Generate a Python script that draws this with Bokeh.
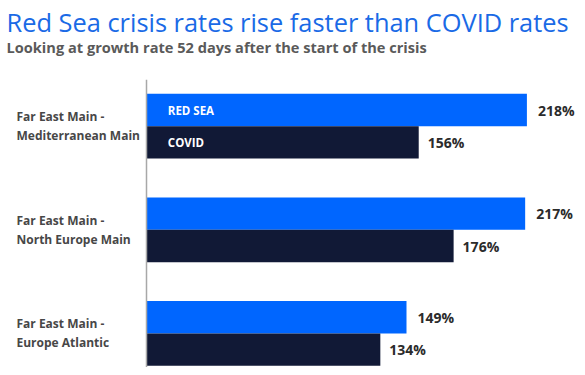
from bokeh.plotting import figure
from bokeh.models import Range1d, ColumnDataSource
from bokeh.transform import dodge
from bokeh.core.properties import value
from bokeh.embed import file_html
from bokeh.resources import INLINE

# ---- data ----
title = "Red Sea crisis rates rise faster than COVID rates"
subtitle = "Looking at growth rate 52 days after the start of the crisis"
routes = ["Far East Main -\nMediterranean Main",
          "Far East Main -\nNorth Europe Main",
          "Far East Main -\nEurope Atlantic"]
series = ["RED SEA", "COVID"]
red_sea = [218, 217, 149]
covid = [156, 176, 134]

# ---- layout constants (pixels) ----
W, H = 577, 367
AXIS_X = 146.0
PX_PER_PCT = 1.745
GROUP_TOP = 125.7
GROUP_STEP = 103.6
BAR_PX = 32.4

FONT = value("Open Sans")
BLUE = "#0066ff"
NAVY = "#111936"

bar_h = BAR_PX / GROUP_STEP
off = bar_h / 2

src = ColumnDataSource(dict(
    idx=list(range(len(routes))),
    route=routes,
    red=red_sea,
    covid=covid,
    red_lbl=[f"{v}%" for v in red_sea],
    covid_lbl=[f"{v}%" for v in covid],
))

p = figure(width=W, height=H,
           x_range=Range1d(-AXIS_X / PX_PER_PCT, (W - AXIS_X) / PX_PER_PCT),
           y_range=Range1d((H - GROUP_TOP) / GROUP_STEP, -GROUP_TOP / GROUP_STEP),
           x_axis_type=None, y_axis_type=None,
           output_backend="svg", toolbar_location=None,
           min_border=0, outline_line_color=None)
p.grid.visible = False
p.background_fill_color = "white"
p.border_fill_color = "white"
p.extra_x_ranges = {"px": Range1d(0, W)}
p.extra_y_ranges = {"py": Range1d(H, 0)}

# bars
p.hbar(y=dodge("idx", -off), left=0, right="red", height=bar_h, source=src,
       fill_color=BLUE, line_color=None)
p.hbar(y=dodge("idx", off), left=0, right="covid", height=bar_h, source=src,
       fill_color=NAVY, line_color=None)

# axis line
p.segment(x0=[AXIS_X], y0=[79.3], x1=[AXIS_X], y1=[H], x_range_name="px",
          y_range_name="py", line_color="#a8a8a8", line_width=1.5)

# value labels
p.text(x="red", y=dodge("idx", -off), text="red_lbl", source=src, x_offset=11,
       text_baseline="middle", text_font=FONT, text_font_style="bold",
       text_font_size="14px", text_color="#2b2b2b")
p.text(x="covid", y=dodge("idx", off), text="covid_lbl", source=src, x_offset=9,
       text_baseline="middle", text_font=FONT, text_font_style="bold",
       text_font_size="14px", text_color="#2b2b2b")

# category labels
p.text(x=16, y="idx", text="route", source=src, x_range_name="px",
       text_baseline="middle", text_font=FONT, text_font_style="bold",
       text_font_size="12px", text_color="#474747", text_line_height=1.12)

# in-bar series labels
p.text(x=[167.3, 167.3], y=[-off, off], text=series, x_range_name="px",
       text_baseline="middle", text_font=FONT, text_font_style="bold",
       text_font_size="11.5px", text_color="white")

# titles
p.text(x=[6], y=[21], text=[title], x_range_name="px", y_range_name="py",
       text_baseline="middle", text_font=FONT, text_font_size="25.4px",
       text_color="#1a6ae6")
p.text(x=[6], y=[46], text=[subtitle], x_range_name="px", y_range_name="py",
       text_baseline="middle", text_font=FONT, text_font_style="bold",
       text_font_size="14.6px", text_color="#5a5a5a")

open("out.html", "w").write(file_html(p, INLINE))
